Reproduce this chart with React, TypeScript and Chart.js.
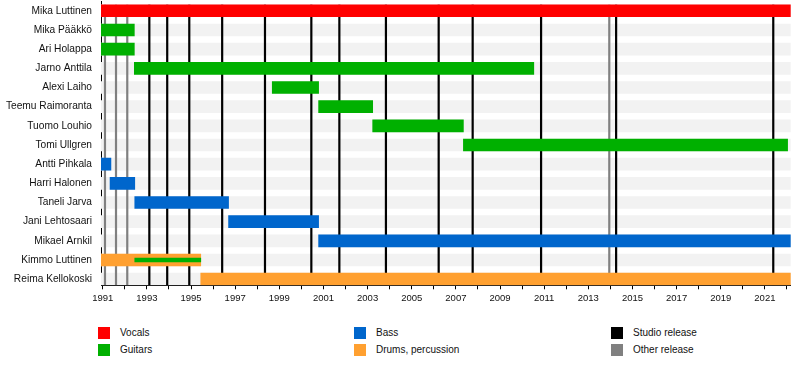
import React, { useEffect, useRef } from 'react';
import { Chart, registerables } from 'chart.js';

Chart.register(...registerables);

const MEMBERS = [
  'Mika Luttinen',
  'Mika Pääkkö',
  'Ari Holappa',
  'Jarno Anttila',
  'Alexi Laiho',
  'Teemu Raimoranta',
  'Tuomo Louhio',
  'Tomi Ullgren',
  'Antti Pihkala',
  'Harri Halonen',
  'Taneli Jarva',
  'Jani Lehtosaari',
  'Mikael Arnkil',
  'Kimmo Luttinen',
  'Reima Kellokoski',
];

const AXIS_START = 1990.92;
const AXIS_END = 2022.17;

type Period = [string, number, number];

const VOCALS: Period[] = [['Mika Luttinen', 1990.92, 2022.17]];
const GUITARS: Period[] = [
  ['Mika Pääkkö', 1990.92, 1992.43],
  ['Ari Holappa', 1990.92, 1992.43],
  ['Jarno Anttila', 1992.43, 2010.53],
  ['Alexi Laiho', 1998.68, 2000.78],
  ['Teemu Raimoranta', 2000.78, 2003.23],
  ['Tuomo Louhio', 2003.23, 2007.34],
  ['Tomi Ullgren', 2007.34, 2022.03],
];
const GUITARS_SECONDARY: Period[] = [['Kimmo Luttinen', 1992.45, 1995.44]];
const BASS: Period[] = [
  ['Antti Pihkala', 1990.92, 1991.37],
  ['Harri Halonen', 1991.33, 1992.45],
  ['Taneli Jarva', 1992.45, 1996.7],
  ['Jani Lehtosaari', 1996.7, 2000.78],
  ['Mikael Arnkil', 2000.78, 2022.17],
];
const DRUMS: Period[] = [
  ['Kimmo Luttinen', 1990.92, 1995.44],
  ['Reima Kellokoski', 1995.44, 2022.17],
];

const STUDIO_RELEASES = [
  1993.11, 1993.92, 1994.92, 1996.41, 1998.35, 2000.45, 2001.72, 2003.83, 2006.22, 2007.76,
  2010.86, 2014.26, 2021.38,
];
const OTHER_RELEASES = [1991.1, 1991.6, 1992.11, 2013.95];

const LEGEND = [
  { label: 'Vocals', color: '#ff0000', left: 98, top: 327 },
  { label: 'Guitars', color: '#00b000', left: 98, top: 344 },
  { label: 'Bass', color: '#0066cc', left: 354, top: 327 },
  { label: 'Drums, percussion', color: '#ffa030', left: 354, top: 344 },
  { label: 'Studio release', color: '#000000', left: 611, top: 327 },
  { label: 'Other release', color: '#808080', left: 611, top: 344 },
];

const COLORS = {
  vocals: '#ff0000',
  guitars: '#00b000',
  bass: '#0066cc',
  drums: '#ffa030',
  stripe: '#f2f2f2',
  studio: '#000000',
  other: '#808080',
};

const toData = (periods: Period[]) =>
  periods.map(([name, s, e]) => ({ y: MEMBERS.indexOf(name), x: [s, e] }));

const FONT = '"Liberation Sans", Arial, Helvetica, sans-serif';

const releaseLines = {
  id: 'releaseLines',
  afterDatasetDraw(chart: any, args: any) {
    if (args.index !== 0) return;
    const { ctx, chartArea, scales } = chart;
    const xs = scales.x;
    const ys = scales.y;
    const top = ys.getPixelForValue(0) - 6;
    const bottom = chartArea.bottom;
    ctx.save();
    ctx.beginPath();
    ctx.rect(chartArea.left, chartArea.top, chartArea.right - chartArea.left, chartArea.bottom - chartArea.top);
    ctx.clip();
    const draw = (vals: number[], color: string) => {
      ctx.strokeStyle = color;
      ctx.lineWidth = 2.2;
      vals.forEach((v) => {
        const px = xs.getPixelForValue(v);
        ctx.beginPath();
        ctx.moveTo(px, top);
        ctx.lineTo(px, bottom);
        ctx.stroke();
      });
    };
    draw(OTHER_RELEASES, COLORS.other);
    draw(STUDIO_RELEASES, COLORS.studio);
    ctx.restore();
  },
};

export default function App() {
  const ref = useRef<HTMLCanvasElement | null>(null);

  useEffect(() => {
    if (!ref.current) return;
    Chart.defaults.font.family = FONT;
    const stripes = MEMBERS.map((_, i) => ({ y: i, x: [AXIS_START, AXIS_END] }));
    const common = { grouped: false, barThickness: 12, borderWidth: 0, borderSkipped: false };
    const chart = new Chart(ref.current, {
      type: 'bar',
      data: {
        datasets: [
          { label: 'rows', data: stripes as any, backgroundColor: COLORS.stripe, order: 10, ...common },
          { label: 'Vocals', data: toData(VOCALS) as any, backgroundColor: COLORS.vocals, order: 1, ...common },
          { label: 'Guitars', data: toData(GUITARS) as any, backgroundColor: COLORS.guitars, order: 1, ...common },
          { label: 'Bass', data: toData(BASS) as any, backgroundColor: COLORS.bass, order: 1, ...common },
          { label: 'Drums, percussion', data: toData(DRUMS) as any, backgroundColor: COLORS.drums, order: 1, ...common },
          {
            label: 'Guitars (2)',
            data: toData(GUITARS_SECONDARY) as any,
            backgroundColor: COLORS.guitars,
            order: 0,
            ...common,
            barThickness: 4,
          },
        ],
      },
      options: {
        indexAxis: 'y',
        animation: false,
        responsive: false,
        maintainAspectRatio: false,
        layout: { padding: { left: 0, right: 9.3, top: 1.2, bottom: 0 } },
        plugins: { legend: { display: false }, tooltip: { enabled: false } },
        scales: {
          x: {
            type: 'linear',
            min: AXIS_START,
            max: AXIS_END,
            offset: false,
            grid: { display: true, drawOnChartArea: false, drawTicks: true, tickLength: 4, color: '#000' },
            border: { display: true, color: '#000', width: 1 },
            ticks: {
              stepSize: 1,
              includeBounds: false,
              autoSkip: false,
              maxRotation: 0,
              padding: 3,
              color: '#111',
              font: { size: 9.5, family: FONT },
              callback: (v: any) => (Math.round(v) % 2 === 1 ? String(Math.round(v)) : ''),
            },
            afterFit: (s: any) => {
              s.height = 24.7;
              s.paddingLeft = 0;
              s.paddingRight = 0;
            },
          },
          y: {
            type: 'linear',
            reverse: true,
            min: -0.5,
            max: 14.32,
            offset: false,
            grid: { display: false, drawTicks: false, offset: false },
            border: { display: true, color: '#000', width: 1 },
            ticks: {
              stepSize: 1,
              includeBounds: false,
              autoSkip: false,
              padding: 9,
              color: '#111',
              font: { size: 10.2, family: FONT },
              callback: (v: any) => (Number.isInteger(v) ? MEMBERS[v] ?? '' : ''),
            },
            afterFit: (s: any) => {
              s.width = 101;
              s.paddingTop = 0;
              s.paddingBottom = 0;
            },
          },
        },
      } as any,
      plugins: [releaseLines],
    });
    return () => chart.destroy();
  }, []);

  return (
    <div style={{ position: 'absolute', left: 0, top: 0, width: 800, height: 375, background: '#fff', fontFamily: FONT }}>
      <canvas ref={ref} width={800} height={310} style={{ position: 'absolute', left: 0, top: 0, width: 800, height: 310 }} />
      {LEGEND.map((item) => (
        <div key={item.label}>
          <div
            style={{
              position: 'absolute',
              left: item.left,
              top: item.top,
              width: 12,
              height: 12,
              background: item.color,
            }}
          />
          <div
            style={{
              position: 'absolute',
              left: item.left + 22,
              top: item.top,
              height: 12,
              lineHeight: '12px',
              fontSize: 10,
              color: '#111',
              whiteSpace: 'nowrap',
            }}
          >
            {item.label}
          </div>
        </div>
      ))}
    </div>
  );
}
